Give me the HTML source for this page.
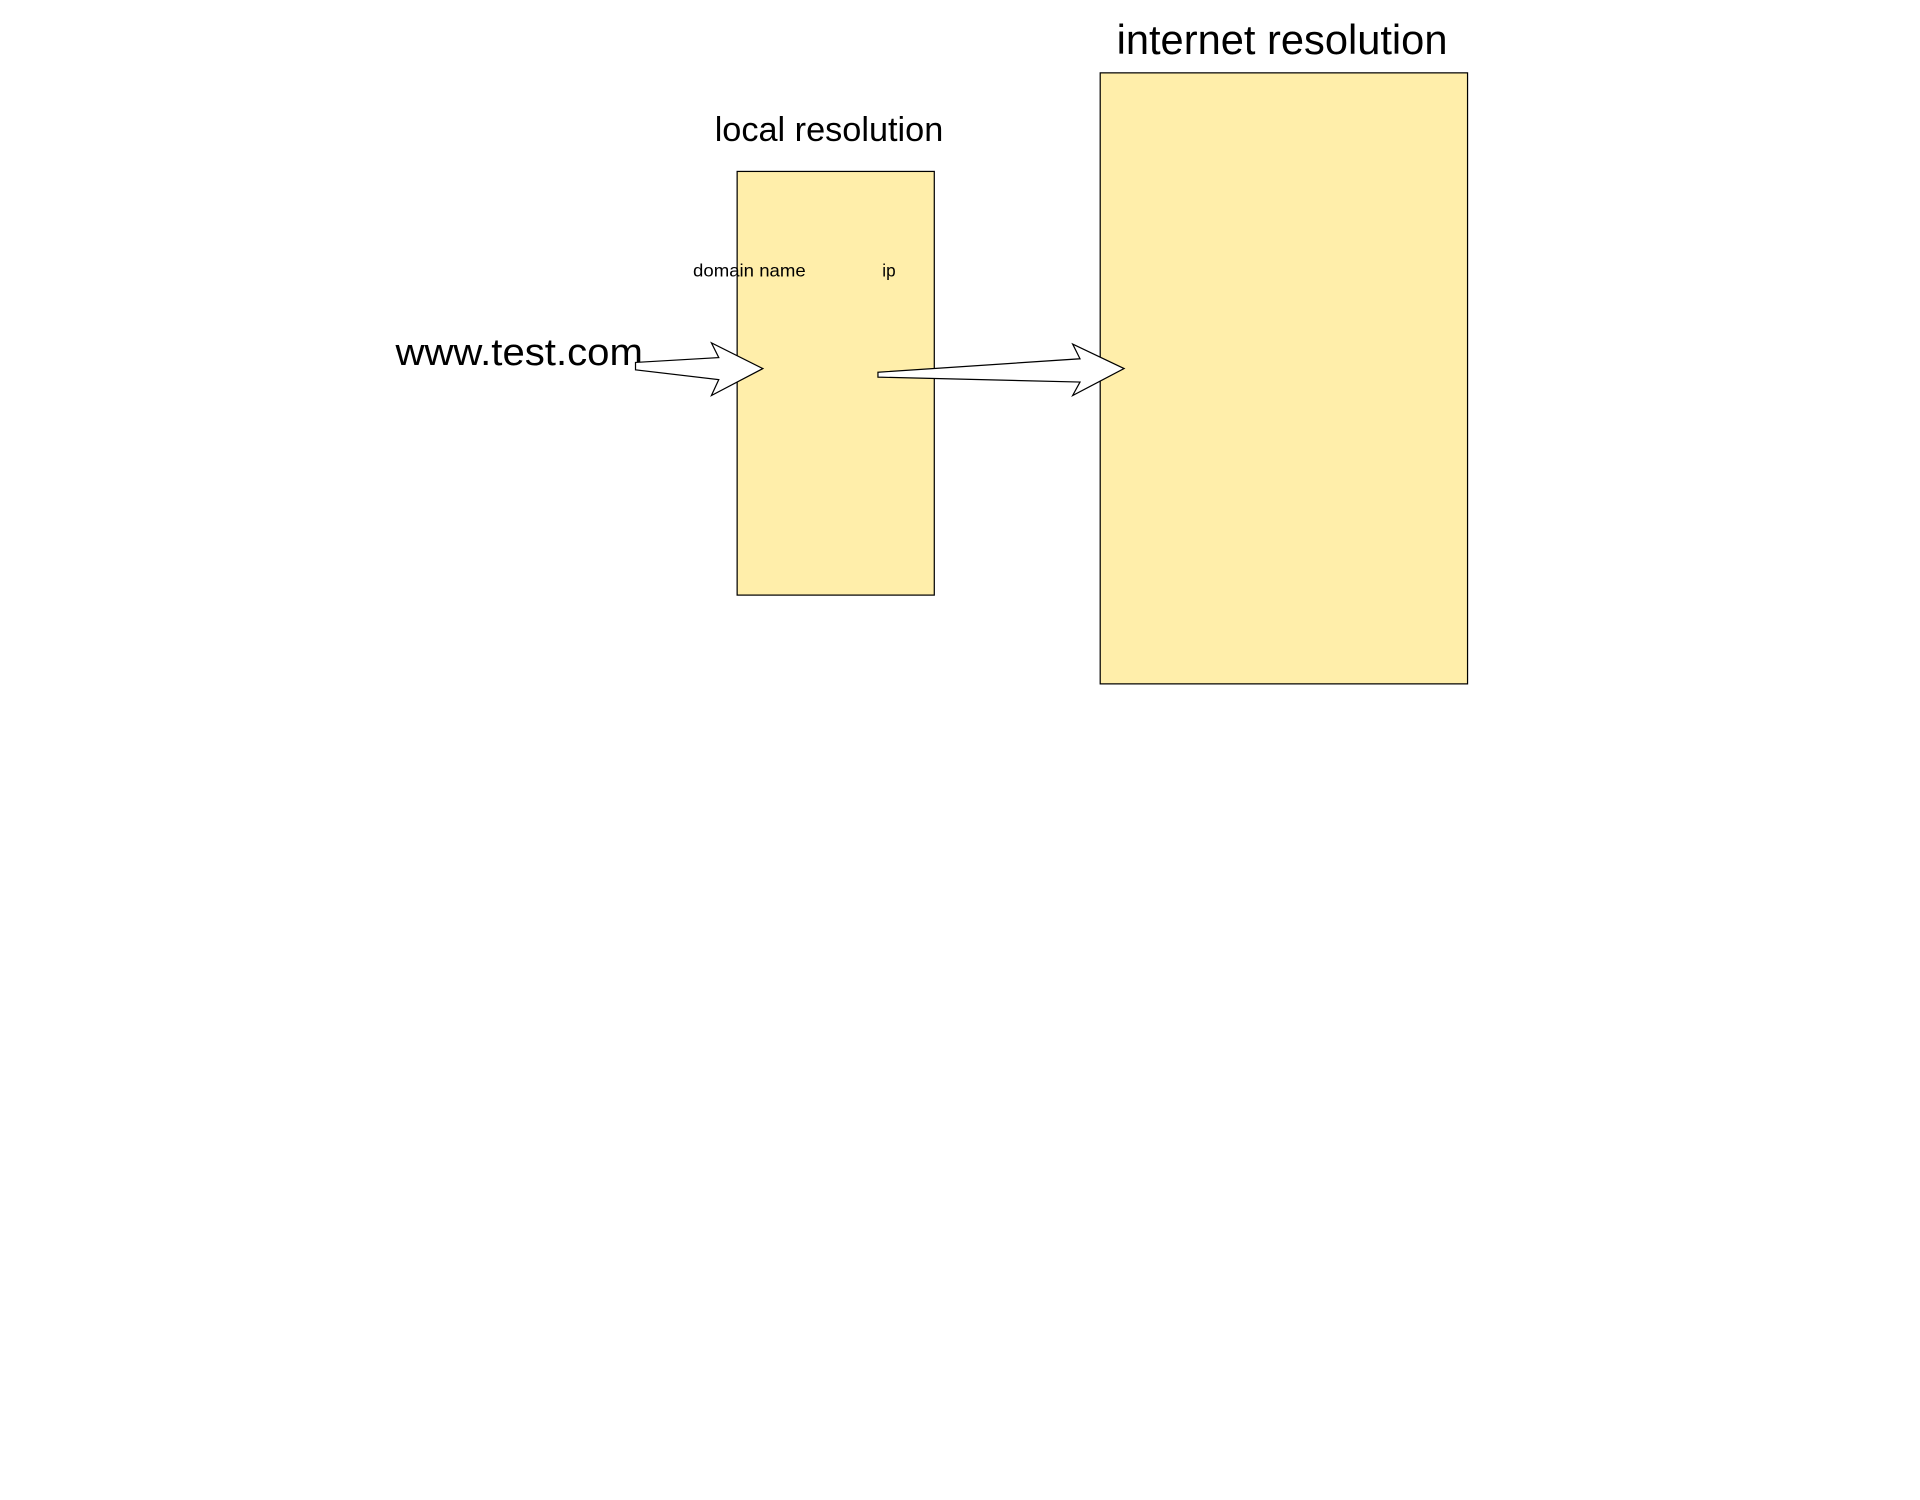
<!DOCTYPE html>
<html><head><meta charset="utf-8"><style>
html,body{margin:0;padding:0;background:#fff;}
svg{display:block;}
text{font-family:"Liberation Sans Narrow","Liberation Sans",sans-serif;fill:#000;}
</style></head><body>
<svg width="1920" height="1500" viewBox="0 0 1568 1225" xmlns="http://www.w3.org/2000/svg">
<rect x="0" y="0" width="1568" height="1225" fill="#fff"/>
<rect x="602" y="140" width="161" height="346" fill="#ffeeaa" stroke="#000" stroke-width="1"/>
<rect x="898.5" y="59.5" width="300" height="499" fill="#ffeeaa" stroke="#000" stroke-width="1"/>
<text x="677" y="115" font-size="28" text-anchor="middle">local resolution</text>
<text x="1047" y="44" font-size="34" text-anchor="middle">internet resolution</text>
<text x="323" y="298" font-size="31" textLength="202" lengthAdjust="spacingAndGlyphs">www.test.com</text>
<text x="566" y="226" font-size="14" textLength="92" lengthAdjust="spacingAndGlyphs">domain name</text>
<text x="726" y="226" font-size="14" text-anchor="middle">ip</text>
<polygon points="519,296 587,292 581,280 623,301 581,323 587,310 519,302" fill="#fff" stroke="#000" stroke-width="1"/>
<polygon points="717,304 882,293 876,281 918,301 876,323 882,312 717,308" fill="#fff" stroke="#000" stroke-width="1"/>
</svg>
</body></html>
